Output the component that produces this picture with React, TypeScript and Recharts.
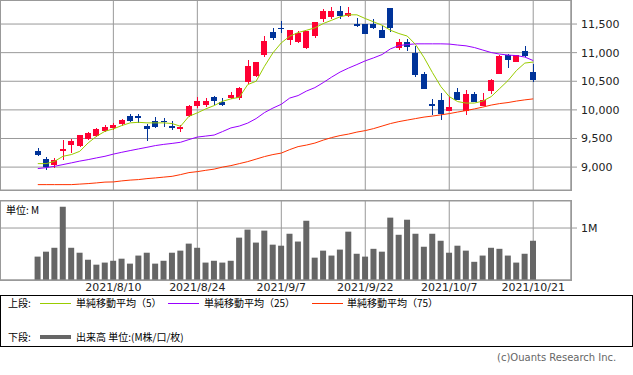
import React from "react";
import { ComposedChart, Bar, Line, XAxis, YAxis, CartesianGrid } from "recharts";

// trading days shown (7/27 .. 10/21)
const dates = [
  "2021/7/27", "2021/7/28", "2021/7/29", "2021/7/30", "2021/8/2", "2021/8/3", "2021/8/4", "2021/8/5", "2021/8/6",
  "2021/8/10", "2021/8/11", "2021/8/12", "2021/8/13", "2021/8/16", "2021/8/17", "2021/8/18", "2021/8/19", "2021/8/20",
  "2021/8/23", "2021/8/24", "2021/8/25", "2021/8/26", "2021/8/27", "2021/8/30", "2021/8/31", "2021/9/1", "2021/9/2",
  "2021/9/3", "2021/9/6", "2021/9/7", "2021/9/8", "2021/9/9", "2021/9/10", "2021/9/13", "2021/9/14", "2021/9/15",
  "2021/9/16", "2021/9/17", "2021/9/21", "2021/9/22", "2021/9/24", "2021/9/27", "2021/9/28", "2021/9/29", "2021/9/30",
  "2021/10/1", "2021/10/4", "2021/10/5", "2021/10/6", "2021/10/7", "2021/10/8", "2021/10/11", "2021/10/12", "2021/10/13",
  "2021/10/14", "2021/10/15", "2021/10/18", "2021/10/19", "2021/10/20", "2021/10/21",
];
const dateTicks = ["2021/8/10", "2021/8/24", "2021/9/7", "2021/9/22", "2021/10/7", "2021/10/21"];
const priceTicks = [9000, 9500, 10000, 10500, 11000, 11500];
const volTicks = [1];

const open = [
  9276, 9149, 9044, 9289, 9393, 9364, 9493, 9539, 9626, 9685, 9755, 9888, 9888, 9713, 9813, 9813, 9713, 9668, 9888, 10075,
  10093, 10220, 10145, 10215, 10215, 10482, 10600, 10954, 11369, 11439, 11229, 11182, 11077, 11287, 11591, 11619, 11736, 11648, 11496, 11509,
  11509, 11404, 11788, 11084, 11194, 10996, 10622, 10110, 10180, 9988, 10308, 9976, 10285, 10075, 10325, 10634, 10961, 10844, 11031, 10669,
];
const high = [
  9336, 9175, 9161, 9481, 9490, 9568, 9608, 9680, 9738, 9773, 9843, 9935, 9935, 9760, 9883, 9860, 9813, 9733, 10087, 10227,
  10210, 10238, 10203, 10308, 10402, 10867, 10832, 11299, 11433, 11556, 11404, 11374, 11386, 11543, 11765, 11793, 11823, 11793, 11608, 11509,
  11591, 11461, 11788, 11241, 11241, 11112, 10657, 10192, 10297, 10238, 10385, 10355, 10308, 10297, 10542, 10961, 10984, 10961, 11124, 10809,
];
const low = [
  9189, 8944, 8986, 9131, 9248, 9346, 9480, 9520, 9608, 9656, 9713, 9783, 9773, 9451, 9685, 9700, 9643, 9608, 9878, 10035,
  10052, 10093, 10075, 10198, 10168, 10460, 10577, 10919, 11229, 11346, 11129, 11171, 11066, 11258, 11531, 11591, 11591, 11630, 11444, 11321,
  11416, 11252, 11363, 11054, 11024, 10577, 10372, 9918, 9830, 9976, 10180, 9918, 10133, 10075, 10285, 10634, 10727, 10832, 10919, 10489,
];
const close = [
  9219, 9000, 9119, 9324, 9451, 9568, 9603, 9673, 9696, 9731, 9830, 9813, 9853, 9668, 9699, 9790, 9678, 9703, 10075, 10163,
  10150, 10150, 10093, 10267, 10390, 10762, 10832, 11199, 11264, 11416, 11404, 11339, 11374, 11543, 11736, 11736, 11636, 11696, 11474, 11321,
  11426, 11252, 11426, 11194, 11101, 10617, 10372, 10075, 9935, 10045, 10180, 10285, 10133, 10180, 10517, 10937, 10867, 10961, 10937, 10530,
];
const ma5 = [
  9061, 9061, 9101, 9189, 9219, 9276, 9423, 9539, 9626, 9668, 9726, 9773, 9783, 9773, 9773, 9773, 9761, 9713, 9888, 9948,
  10017, 10075, 10150, 10192, 10220, 10442, 10500, 10762, 10996, 11171, 11287, 11351, 11391, 11433, 11509, 11566, 11626, 11661, 11661, 11596,
  11538, 11479, 11391, 11334, 11290, 11141, 10914, 10652, 10407, 10232, 10145, 10119, 10119, 10154, 10232, 10372, 10512, 10687, 10818, 10836,
];
const ma25 = [
  8974, 8991, 9014, 9044, 9074, 9105, 9131, 9161, 9189, 9227, 9259, 9289, 9318, 9346, 9376, 9397, 9414, 9434, 9481, 9525,
  9542, 9560, 9621, 9685, 9717, 9769, 9848, 9953, 10031, 10098, 10206, 10250, 10329, 10389, 10477, 10573, 10661, 10730, 10792, 10857,
  10909, 10967, 11066, 11124, 11141, 11154, 11154, 11154, 11154, 11150, 11133, 11119, 11089, 11045, 11002, 10975, 10958, 10949, 10923, 10862,
];
const ma75 = [
  8694, 8694, 8694, 8694, 8694, 8703, 8712, 8724, 8738, 8741, 8759, 8773, 8782, 8799, 8811, 8825, 8839, 8869, 8904, 8921,
  8944, 8965, 9000, 9026, 9061, 9096, 9140, 9184, 9219, 9245, 9306, 9358, 9385, 9420, 9472, 9516, 9551, 9577, 9612, 9638,
  9673, 9717, 9761, 9795, 9822, 9848, 9874, 9892, 9913, 9935, 9962, 9988, 10017, 10049, 10084, 10110, 10128, 10154, 10175, 10192,
];
// volume in millions
const volume = [
  0.45, 0.545, 0.62, 1.41, 0.62, 0.525, 0.39, 0.295, 0.335, 0.37, 0.41, 0.315, 0.47, 0.525, 0.315, 0.37, 0.525, 0.565, 0.7, 0.62,
  0.335, 0.37, 0.335, 0.37, 0.815, 0.97, 0.72, 0.95, 0.68, 0.66, 0.89, 0.74, 1.14, 0.43, 0.565, 0.47, 0.585, 0.93, 0.505, 0.45,
  0.6, 0.545, 1.2, 0.87, 1.16, 0.89, 0.64, 0.89, 0.755, 0.525, 0.66, 0.565, 0.35, 0.47, 0.62, 0.6, 0.47, 0.335, 0.505, 0.755,
];

const rows = dates.map((date, i) => ({
  i,
  date,
  open: open[i],
  high: high[i],
  low: low[i],
  close: close[i],
  ma5: ma5[i],
  ma25: ma25[i],
  ma75: ma75[i],
  vol: volume[i],
}));
const tickIdx = dateTicks.map((d) => dates.indexOf(d));

const GRID = "#999";
const UP = "#ff0033";
const DOWN = "#003399";
const C5 = "#99cc00";
const C25 = "#9900ff";
const C75 = "#ff3300";
const NUM_FONT = "'DejaVu Sans', Verdana, sans-serif";
const JP_FONT = "'Noto Sans CJK JP', 'DejaVu Sans', sans-serif";
const X_DOMAIN = [-4.5, 63.5];

function Candle(props: any) {
  const { x, y, width, height, payload } = props;
  if (x == null || y == null) return null;
  const top = Math.min(y, y + height);
  const bot = Math.max(y, y + height);
  const span = payload.high - payload.low || 1;
  const py = (v: number) => bot - ((v - payload.low) / span) * (bot - top);
  const color = payload.close > payload.open ? UP : DOWN;
  const bTop = Math.round(py(Math.max(payload.open, payload.close)));
  const bBot = Math.round(py(Math.min(payload.open, payload.close)));
  const left = Math.round(x);
  const cx = left + Math.floor(width / 2) + 0.5;
  return (
    <g>
      <line x1={cx} x2={cx} y1={Math.round(top)} y2={Math.round(bot)} stroke={color} strokeWidth={1} />
      <rect x={left} y={bTop} width={width} height={Math.max(1, bBot - bTop)} fill={color} />
    </g>
  );
}

const frame = (top: number, height: number) => ({
  position: "absolute" as const,
  left: 0,
  top,
  width: 572,
  height,
  border: `1px solid ${GRID}`,
  boxSizing: "border-box" as const,
  pointerEvents: "none" as const,
});

function LegendLine({ left, top, color, thick }: { left: number; top: number; color: string; thick?: boolean }) {
  const h = thick ? 4 : 1;
  return (
    <div style={{ position: "absolute", left, top: top - h / 2, width: 31, height: h, background: color }} />
  );
}

function Txt({ left, top, children, color = "#000", size = 10, font = JP_FONT }: any) {
  return (
    <div
      style={{
        position: "absolute",
        left,
        top,
        fontSize: size,
        fontFamily: font,
        color,
        lineHeight: "14px",
        whiteSpace: "nowrap",
        transform: "translateY(-50%)",
      }}
    >
      {children}
    </div>
  );
}

export default function App() {
  return (
    <div style={{ position: "absolute", left: 0, top: 0, width: 633, height: 375, background: "#fff" }}>
      {/* price panel */}
      <div style={{ position: "absolute", left: 0, top: 0 }}>
        <ComposedChart width={633} height={191} data={rows} margin={{ top: 0, right: 0, bottom: 1, left: 0 }}>
          <CartesianGrid stroke={GRID} />
          <XAxis dataKey="i" type="number" domain={X_DOMAIN} ticks={tickIdx} hide allowDataOverflow />
          <YAxis
            orientation="right"
            width={62}
            domain={[8600, 11920]}
            ticks={priceTicks}
            allowDataOverflow
            tickFormatter={(v) => v.toLocaleString("en-US")}
            tick={{ fill: "#222", fontSize: 11, fontFamily: NUM_FONT }}
            tickSize={6}
            tickMargin={4}
            tickLine={{ stroke: GRID }}
            axisLine={{ stroke: GRID }}
          />
          <Line dataKey="ma75" stroke={C75} strokeWidth={1} dot={false} activeDot={false} isAnimationActive={false} />
          <Line dataKey="ma25" stroke={C25} strokeWidth={1} dot={false} activeDot={false} isAnimationActive={false} />
          <Line dataKey="ma5" stroke={C5} strokeWidth={1} dot={false} activeDot={false} isAnimationActive={false} />
          <Bar
            dataKey={(d: any) => [d.low, d.high]}
            barSize={6}
            shape={(p: any) => <Candle {...p} />}
            activeBar={false}
            isAnimationActive={false}
          />
        </ComposedChart>
        <div style={frame(0, 191)} />
      </div>

      {/* volume panel */}
      <div style={{ position: "absolute", left: 0, top: 200 }}>
        <ComposedChart width={633} height={96} data={rows} margin={{ top: 1, right: 0, bottom: 0, left: 0 }}>
          <CartesianGrid stroke={GRID} />
          <XAxis
            dataKey="i"
            type="number"
            domain={X_DOMAIN}
            ticks={tickIdx}
            allowDataOverflow
            height={16}
            tickFormatter={(v) => dates[v]}
            tick={{ fill: "#222", fontSize: 11, fontFamily: NUM_FONT }}
            tickLine={false}
            tickSize={0}
            tickMargin={3}
            axisLine={{ stroke: GRID }}
            interval={0}
          />
          <YAxis
            orientation="right"
            width={62}
            domain={[0, 1.52]}
            ticks={volTicks}
            allowDataOverflow
            tickFormatter={(v) => `${v}M`}
            tick={{ fill: "#222", fontSize: 11, fontFamily: NUM_FONT }}
            tickSize={6}
            tickMargin={4}
            tickLine={{ stroke: GRID }}
            axisLine={{ stroke: GRID }}
          />
          <Bar dataKey="vol" fill="#666" barSize={6} activeBar={false} isAnimationActive={false} />
        </ComposedChart>
        <div style={frame(0, 81)} />
        <Txt left={6} top={10}>単位: M</Txt>
      </div>

      {/* legend box */}
      <div
        style={{
          position: "absolute",
          left: 0,
          top: 295,
          width: 633,
          height: 52,
          border: "1px solid #000",
          boxSizing: "border-box",
        }}
      />
      <Txt left={8} top={303}>上段:</Txt>
      <LegendLine left={40} top={303} color={C5} />
      <Txt left={76} top={303}>単純移動平均（5）</Txt>
      <LegendLine left={168} top={303} color={C25} />
      <Txt left={204} top={303}>単純移動平均（25）</Txt>
      <LegendLine left={312} top={303} color={C75} />
      <Txt left={347} top={303}>単純移動平均（75）</Txt>
      <Txt left={8} top={337}>下段:</Txt>
      <LegendLine left={40} top={337} color="#666" thick />
      <Txt left={76} top={337}>出来高 単位:(M株/口/枚)</Txt>

      <Txt left={497} top={358} color="#666" size={10} font={NUM_FONT}>
        (c)Ouants Research Inc.
      </Txt>
    </div>
  );
}
